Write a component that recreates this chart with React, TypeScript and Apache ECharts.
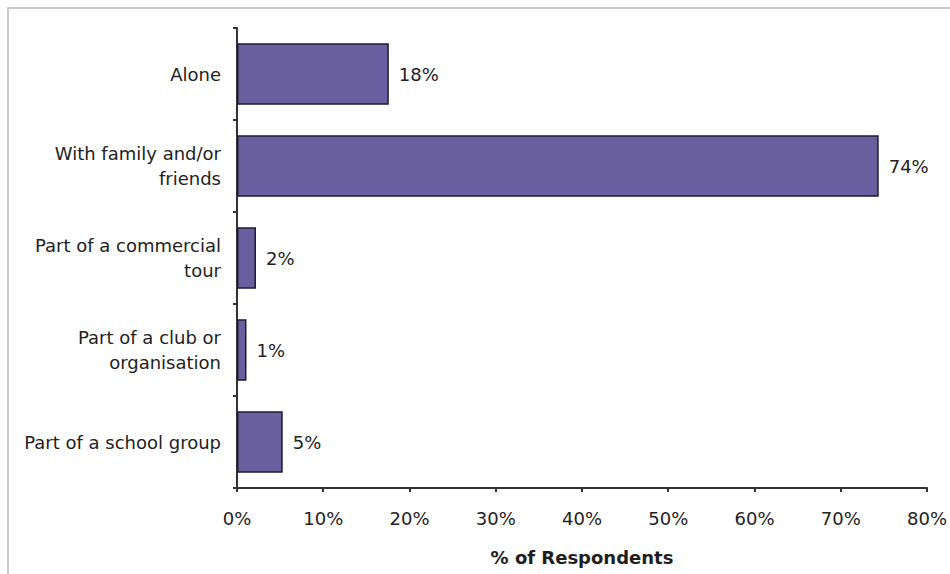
import React, { useEffect, useRef } from "react";
import * as echarts from "echarts";

const categories = [
  "Alone",
  "With family and/or\nfriends",
  "Part of a commercial\ntour",
  "Part of a club or\norganisation",
  "Part of a school group",
];
const values = [17.6, 74.4, 2.2, 1.1, 5.3];
const valueLabels = ["18%", "74%", "2%", "1%", "5%"];
const xTicks = [0, 10, 20, 30, 40, 50, 60, 70, 80];

export default function App() {
  const ref = useRef<HTMLDivElement>(null);
  useEffect(() => {
    document.body.style.margin = "0";
    const chart = echarts.init(ref.current!, null, { renderer: "svg" });
    const font = "DejaVu Sans, Liberation Sans, Arial, sans-serif";
    chart.setOption({
      animation: false,
      backgroundColor: "#ffffff",
      textStyle: { fontFamily: font },
      graphic: [
        {
          type: "rect",
          shape: { x: 8, y: 8, width: 960, height: 600 },
          style: { fill: "none", stroke: "#c8c8c8", lineWidth: 2 },
          silent: true,
        },
      ],
      grid: { left: 237, top: 28, right: 17, bottom: 86, containLabel: false },
      xAxis: {
        type: "value",
        min: xTicks[0],
        max: xTicks[xTicks.length - 1],
        interval: 10,
        name: "% of Respondents",
        nameLocation: "middle",
        nameGap: 60,
        nameTextStyle: { fontFamily: font, fontSize: 18, fontWeight: "bold", color: "#1e1e1e" },
        axisLine: { show: true, lineStyle: { color: "#333", width: 2 } },
        axisTick: { show: true, length: 4, lineStyle: { color: "#333", width: 2 } },
        axisLabel: {
          formatter: (v: number) => v + "%",
          fontFamily: font,
          fontSize: 18,
          color: "#222",
          margin: 21,
        },
        splitLine: { show: false },
      },
      yAxis: {
        type: "category",
        data: categories,
        inverse: true,
        axisLine: { show: true, lineStyle: { color: "#333", width: 2 } },
        axisTick: { show: true, length: 4, lineStyle: { color: "#333", width: 2 } },
        axisLabel: {
          fontFamily: font,
          fontSize: 18,
          color: "#222",
          margin: 16,
          lineHeight: 25,
          align: "right",
        },
      },
      series: [
        {
          type: "bar",
          data: values,
          barCategoryGap: "33%",
          itemStyle: { color: "#6a5f9e", borderColor: "#1c1a36", borderWidth: 1.5 },
          label: {
            show: true,
            position: "right",
            distance: 10,
            formatter: (p: any) => valueLabels[p.dataIndex],
            fontFamily: font,
            fontSize: 18,
            color: "#222",
          },
        },
      ],
    });
    return () => chart.dispose();
  }, []);
  return <div ref={ref} style={{ width: 950, height: 574 }} />;
}
